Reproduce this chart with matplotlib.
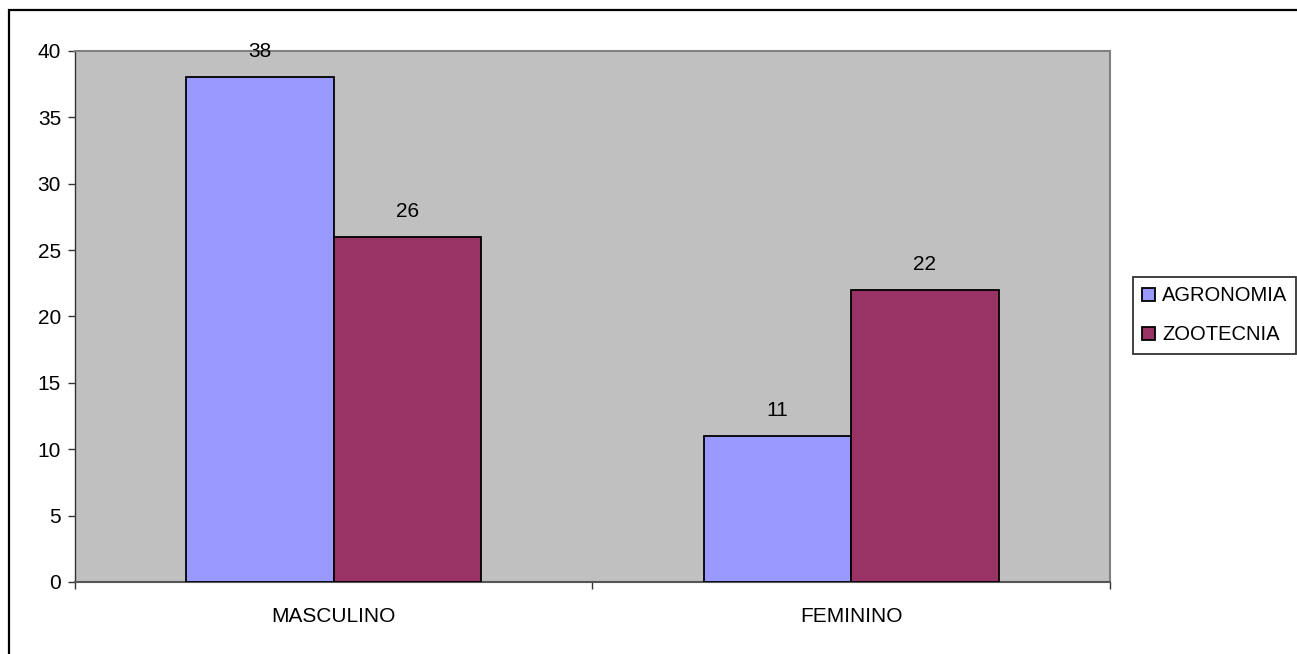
import numpy as np
import matplotlib
matplotlib.use("Agg")
import matplotlib.pyplot as plt
from matplotlib.patches import Rectangle

plt.rcParams["font.family"] = ["Liberation Sans", "DejaVu Sans"]

categories = ["MASCULINO", "FEMININO"]
series_names = ["AGRONOMIA", "ZOOTECNIA"]
agronomia = [38, 11]
zootecnia = [26, 22]
colors = ["#9999FF", "#993366"]

fig = plt.figure(figsize=(12.97, 6.54), dpi=100)
ax = fig.add_axes([0.0578, 0.1101, 0.798, 0.812])
ax.set_facecolor("#C0C0C0")

x = np.arange(len(categories))
w = 0.285
for i, (vals, name) in enumerate(zip([agronomia, zootecnia], series_names)):
    pos = x + (i - 0.5) * w
    bars = ax.bar(pos, vals, width=w, color=colors[i], edgecolor="black",
                  linewidth=1.3, label=name, zorder=3)
    for b, v in zip(bars, vals):
        ax.annotate(str(v), (b.get_x() + b.get_width() / 2, v),
                    xytext=(0, 18.5), textcoords="offset points",
                    ha="center", va="center", fontsize=15, zorder=4)

ax.set_xlim(-0.5, 1.5)
ax.set_ylim(0, 40)
ax.set_yticks(range(0, 41, 5))
ax.tick_params(axis="y", length=5, width=1, labelsize=15, pad=5, color="#333333")
ax.set_xticks(x)
ax.set_xticklabels(categories)
ax.tick_params(axis="x", length=0, labelsize=15, pad=18)
ax.set_xticks([-0.5, 0.5, 1.5], minor=True)
ax.tick_params(axis="x", which="minor", length=5, width=1, color="#333333")

for s in ["top", "right"]:
    ax.spines[s].set_color("#808080")
    ax.spines[s].set_linewidth(1.5)
ax.spines["left"].set_color("#333333")
ax.spines["bottom"].set_color("#555555")
ax.spines["left"].set_linewidth(1)
ax.spines["bottom"].set_linewidth(1.5)

leg = fig.legend(loc="upper left", bbox_to_anchor=(0.8735, 0.576), fontsize=14.5,
                 frameon=True, fancybox=False, edgecolor="black",
                 handlelength=0.65, handleheight=0.65, handletextpad=0.35,
                 borderpad=0.45, labelspacing=1.0, borderaxespad=0)
leg.get_frame().set_linewidth(1.3)

# chart frame
fig.patches.append(Rectangle((0.0069, -0.05), 1.1, 0.9847 + 0.05,
                             transform=fig.transFigure, fill=False,
                             edgecolor="black", linewidth=1.6))

fig.savefig("out.png", dpi=100)
